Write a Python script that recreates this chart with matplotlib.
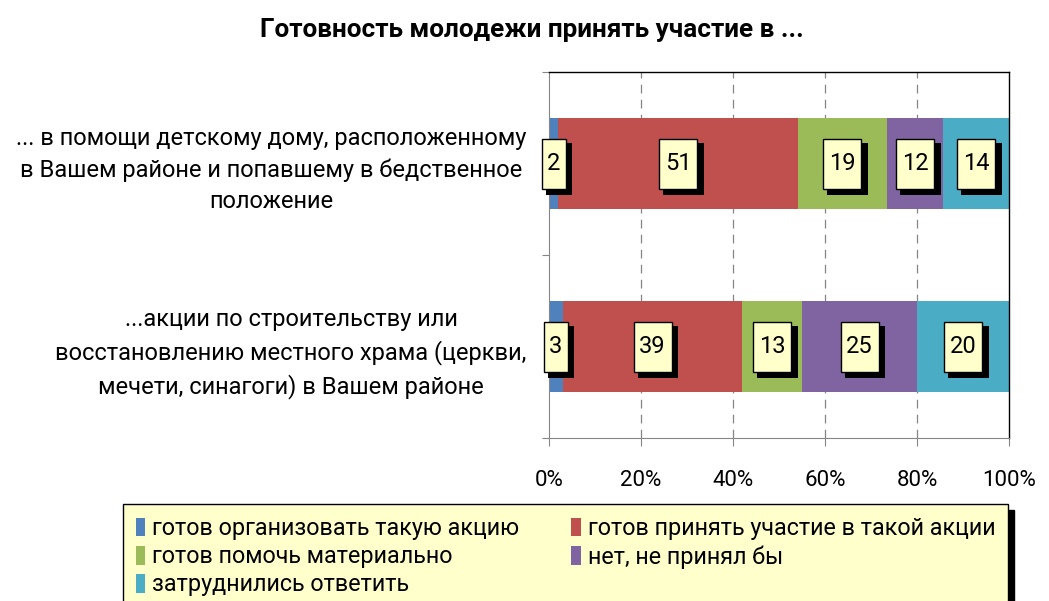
import matplotlib
matplotlib.use('Agg')
import matplotlib.pyplot as plt
import matplotlib.transforms as mtransforms
from matplotlib.patches import Rectangle, Patch

plt.rcParams['font.family'] = ['Roboto', 'DejaVu Sans']

title = "Готовность молодежи принять участие в ..."
categories = [
    "... в помощи детскому дому, расположенному\nв Вашем районе и попавшему в бедственное\nположение",
    "...акции по строительству или\nвосстановлению местного храма (церкви,\nмечети, синагоги) в Вашем районе",
]
series_names = [
    "готов организовать такую акцию",
    "готов принять участие в такой акции",
    "готов помочь материально",
    "нет, не принял бы",
    "затруднились ответить",
]
vals_organize = [2, 3]
vals_participate = [51, 39]
vals_material = [19, 13]
vals_no = [12, 25]
vals_hard = [14, 20]
colors = ['#4F81BD', '#C0504D', '#9BBB59', '#8064A2', '#4BACC6']
xticks = [0, 20, 40, 60, 80, 100]
xtick_labels = ['0%', '20%', '40%', '60%', '80%', '100%']

series = [vals_organize, vals_participate, vals_material, vals_no, vals_hard]

W, H = 1049, 601
fig = plt.figure(figsize=(W / 100, H / 100), dpi=100)
ax = fig.add_axes([549 / W, 1 - 438 / H, 460 / W, 366 / H])

ypos = [1.5, 0.5]
totals = [sum(s[i] for s in series) for i in range(len(categories))]
lefts = [0.0] * len(categories)
label_items = []
for s, c in zip(series, colors):
    widths = [s[i] / totals[i] * 100 for i in range(len(categories))]
    ax.barh(ypos, widths, left=lefts, height=0.5, color=c, edgecolor='none', zorder=2)
    for i in range(len(categories)):
        label_items.append((lefts[i] + widths[i] / 2, ypos[i], s[i]))
    lefts = [lefts[i] + widths[i] for i in range(len(categories))]

ax.set_xlim(0, 100)
ax.set_ylim(0, 2)
ax.set_xticks(xticks)
ax.set_xticklabels(xtick_labels, fontsize=16)
ax.set_yticks([0, 1, 2])
ax.set_yticklabels([])
ax.set_yticks(ypos, minor=True)
ax.set_yticklabels(categories, minor=True, fontsize=17, multialignment='center', linespacing=1.45)
ax.tick_params(axis='y', which='minor', length=0, pad=16)
ax.tick_params(axis='y', which='major', direction='out', length=5, color='#868686')
ax.tick_params(axis='x', direction='out', length=6, color='#868686', pad=17)
for v in xticks[1:-1]:
    ax.axvline(v, color='#868686', lw=0.9, ls=(0, (7, 5)), zorder=1)
for sp in ['left', 'bottom']:
    ax.spines[sp].set_color('#868686')
for sp in ['top', 'right']:
    ax.spines[sp].set_color('#000000')
    ax.spines[sp].set_linewidth(1.0)

fig.text(532 / W, 1 - 30 / H, title, ha='center', va='center', fontsize=18.8, fontweight='bold')

# data labels with shadow boxes
for x, y, v in label_items:
    txt = str(v)
    wpx = 24 if len(txt) == 1 else 38
    hpx = 50
    trans = fig.dpi_scale_trans + mtransforms.ScaledTranslation(x, y, ax.transData)
    sh = Rectangle(((-wpx / 2 + 4) / 100, (-hpx / 2 - 6.5) / 100), (wpx + 2.5) / 100, (hpx + 2.5) / 100,
                   transform=trans, facecolor='black', edgecolor='black', lw=0, zorder=5, clip_on=False)
    bx = Rectangle((-wpx / 2 / 100, -hpx / 2 / 100), wpx / 100, hpx / 100, transform=trans,
                   facecolor='#FFFFCC', edgecolor='black', lw=1.0, zorder=6, clip_on=False)
    ax.add_patch(sh)
    ax.add_patch(bx)
    ax.text(x, y, txt, ha='center', va='center', fontsize=17, zorder=7)

handles = [Patch(facecolor=c, edgecolor='none') for c in colors]
order = [0, 2, 4, 1, 3]
leg = fig.legend([handles[i] for i in order], [series_names[i] for i in order],
                 loc='upper left', bbox_to_anchor=(123 / W, 1 - 505 / H, 885 / W, 0.001),
                 mode='expand', ncol=2, fontsize=16.8, frameon=True, fancybox=False,
                 handlelength=0.4, handleheight=0.85, handletextpad=0.3, labelspacing=0.22,
                 borderaxespad=0, borderpad=0.55, columnspacing=1.0,
                 shadow={'ox': 4, 'oy': -4, 'facecolor': 'black', 'edgecolor': 'black', 'alpha': 1})
leg.get_frame().set_facecolor('#FFFFCC')
leg.get_frame().set_edgecolor('black')
leg.get_frame().set_linewidth(1.0)
leg.get_frame().set_alpha(1)

fig.savefig('out.png', dpi=100, facecolor='white')
